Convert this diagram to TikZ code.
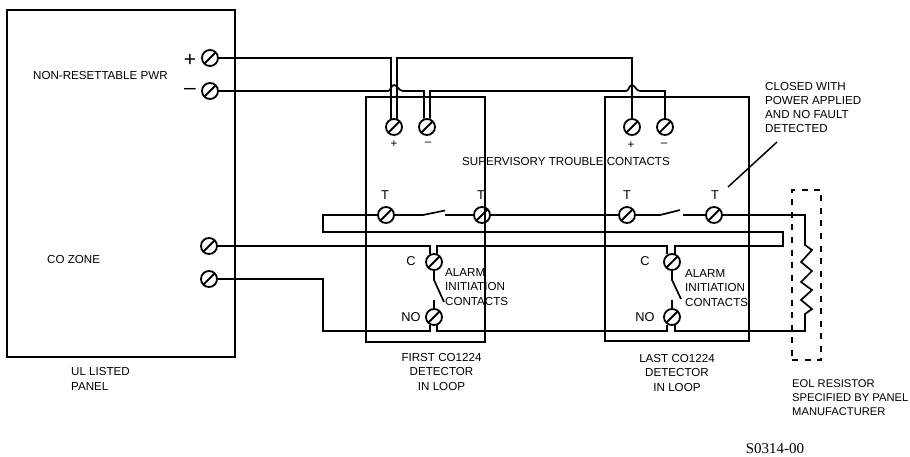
\documentclass[tikz,border=0pt]{standalone}
\usepackage{fontspec}
\setmainfont{Liberation Sans}
\newfontfamily\serialfont{Liberation Serif}
\usepackage{tikz}
\usetikzlibrary{positioning}

\tikzset{
    wire/.style={line width=1.7pt,line join=miter},
    casing/.style={draw,rectangle,line width=1.9pt,inner sep=0pt},
    terminal/.style={draw,circle,line width=1.8pt,inner sep=0pt,minimum size=16pt,
        path picture={\draw[line width=1.8pt] (path picture bounding box.south west) -- (path picture bounding box.north east);}},
    tiny label/.style={inner sep=0pt,font=\fontsize{11.6}{14.3}\selectfont},
    leftlabel/.style={tiny label,anchor=west,align=left},
    midlabel/.style={tiny label,align=center},
    pole/.style={inner sep=0pt,font=\fontsize{12.8}{14}\selectfont},
    bigpole/.style={inner sep=0pt,font=\fontsize{21}{22}\selectfont}
}

\begin{document}
\begin{tikzpicture}[x=1pt,y=-1pt]
    \useasboundingbox (0,0) rectangle (910,457);

    % Casings
    \node[casing,minimum width=228pt,minimum height=347pt] (panel) at (121,183.5) {};
    \node[casing,minimum width=119pt,minimum height=245pt] (firstco) at (425.5,219.5) {};
    \node[casing,minimum width=144pt,minimum height=244pt] (lastco) at (677,219) {};

    % Panel terminals
    \node[terminal] (pwrplus) at (210,58) {};
    \node[terminal] (pwrminus) at (210,91) {};
    \node[terminal] (zonea) at (209,246) {};
    \node[terminal] (zoneb) at (209,279) {};

    % Detector terminals
    \foreach \d/\p/\m/\ta/\tb/\c in {first/394/427/386/482/434,last/632/665/627/714/672} {
        \node[terminal] (\d plus) at (\p,127) {};
        \node[terminal] (\d minus) at (\m,127) {};
        \node[terminal] (\d ta) at (\ta,215) {};
        \node[terminal] (\d tb) at (\tb,215) {};
        \node[terminal] (\d c) at (\c,262) {};
        \node[terminal] (\d no) at (\c,317) {};
    }

    % Power wires
    \draw[wire] (pwrplus) -- (391,58) -- (firstplus.110 -| 391,0);
    \draw[wire] (firstplus.70 -| 397,0) -- (397,58) -- (632,58) -- (lastplus);
    \draw[wire] (pwrminus) -- (388,91) .. controls (391,91) and (391,85) .. (394,85)
        .. controls (397,85) and (399,91) .. (403,91) -- (424,91) -- (firstminus.110 -| 424,0);
    \draw[wire] (firstminus.70 -| 430,0) -- (430,91) -- (626,91) .. controls (629,91) and (629,85) .. (632,85)
        .. controls (635,85) and (636,91) .. (640,91) -- (665,91) -- (lastminus);

    % Trouble contact wires
    \coordinate (firstblade) at (423,215);
    \coordinate (firstgap) at (445,215);
    \coordinate (lastblade) at (660,215);
    \coordinate (lastgap) at (683,215);
    \draw[wire] (firstta) -- (firstblade) -- (445,210.5);
    \draw[wire] (firstgap) -- (firsttb);
    \draw[wire] (firsttb) -- (lastta);
    \draw[wire] (lastta) -- (lastblade) -- (680,210);
    \draw[wire] (lastgap) -- (lasttb);
    \draw[wire] (firstta) -- (323,215) -- (323,232) -- (783,232) -- (783,246) -- (675,246) -- (lastc.60 -| 675,0);

    % Alarm wires
    \draw[wire] (zonea) -- (430,246) -- (firstc.120 -| 430,0);
    \draw[wire] (firstc.60 -| 437,0) -- (437,246) -- (667,246) -- (lastc.120 -| 667,0);
    \draw[wire] (zoneb) -- (323,279) -- (323,331) -- (430,331) -- (firstno.240 -| 430,0);
    \draw[wire] (firstno.300 -| 437,0) -- (437,331) -- (667,331) -- (lastno.240 -| 667,0);
    \draw[wire] (lastno.300 -| 675,0) -- (675,331) -- (805,331) -- (805,314)
        -- (812,309) -- (801,300) -- (812,290) -- (801,282) -- (812,271) -- (801,262) -- (812,250) -- (805,245)
        -- (805,215) -- (lasttb);

    % Alarm contacts
    \draw[wire] (firstc.south) -- (434,280) -- (444,302);
    \draw[wire] (firstno.north) -- (434,300);
    \draw[wire] (lastc.south) -- (672,280) -- (681,299);
    \draw[wire] (lastno.north) -- (672,300);

    % EOL resistor outline
    \node[draw,line width=1.7pt,dash pattern=on 6pt off 6.5pt,minimum width=29pt,minimum height=170pt] (eolbox) at (806.5,275) {};

    % Leader
    \coordinate (leaderend) at (728,187);
    \coordinate (leaderstart) at (777,142);
    \draw[line width=1.5pt] (leaderstart) -- (leaderend);

    % Text
    \node[bigpole] (plussign) at (190,60) {+};
    \node[bigpole] (minussign) at (190,91) {--};
    \node[leftlabel] (pwrlabel) at (33,76) {NON-RESETTABLE PWR};
    \node[leftlabel] (zonelabel) at (47,260) {CO ZONE};
    \node[leftlabel] (panellabel) at (71,379) {UL LISTED\\PANEL};
    \node[tiny label] (firstpluslabel) at (394,144) {+};
    \node[tiny label] (firstminuslabel) at (428,144) {--};
    \node[tiny label] (lastpluslabel) at (631,145) {+};
    \node[tiny label] (lastminuslabel) at (664,145) {--};
    \node[tiny label] (troublelabel) at (566,162) {SUPERVISORY TROUBLE CONTACTS};
    \foreach \n/\x/\t in {a/385/T,b/481/T,c/627/T,d/715/T} {
        \node[pole] (tlabel\n) at (\x,195) {\t};
    }
    \node[pole] (cfirst) at (411,261) {C};
    \node[pole] (nofirst) at (411,317) {NO};
    \node[pole] (clast) at (645,261) {C};
    \node[pole] (nolast) at (645,317) {NO};
    \node[leftlabel] (alarmfirst) at (445,287) {ALARM\\INITIATION\\CONTACTS};
    \node[leftlabel] (alarmlast) at (685,288) {ALARM\\INITIATION\\CONTACTS};
    \node[midlabel] (firstlabel) at (441.5,372) {FIRST CO1224\\DETECTOR\\IN LOOP};
    \node[midlabel] (lastlabel) at (677,373) {LAST CO1224\\DETECTOR\\IN LOOP};
    \node[leftlabel] (closedlabel) at (765,107.5) {CLOSED WITH\\POWER APPLIED\\AND NO FAULT\\DETECTED};
    \node[leftlabel,font=\fontsize{11.2}{14.3}\selectfont] (eollabel) at (792,397.5) {EOL RESISTOR\\SPECIFIED BY PANEL\\MANUFACTURER};
    \node[inner sep=0pt,font=\serialfont\fontsize{15}{16}\selectfont] (serial) at (775,449) {S0314-00};
\end{tikzpicture}
\end{document}
